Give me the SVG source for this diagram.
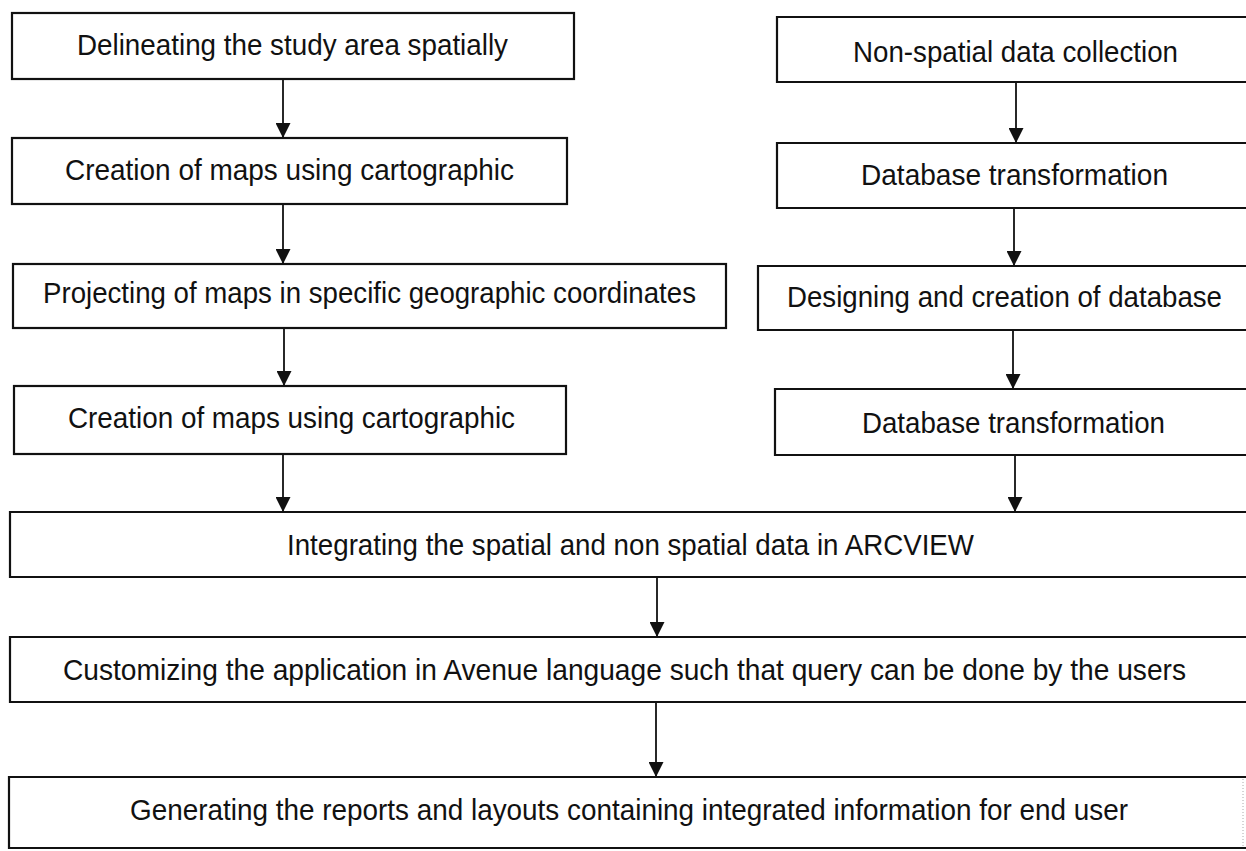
<svg xmlns="http://www.w3.org/2000/svg" width="1246" height="851" viewBox="0 0 1246 851">
  <style>
    .box { fill: #ffffff; stroke: #111111; stroke-width: 2.2; }
    .lbl { font-family: "Liberation Sans", Arial, sans-serif; font-size: 29px; fill: #111111; }
    .conn { stroke: #111111; stroke-width: 1.8; fill: none; marker-end: url(#arrow); }
  </style>
  <defs>
    <marker id="arrow" markerUnits="userSpaceOnUse" markerWidth="15" markerHeight="15" refX="15" refY="7.5" orient="auto" viewBox="0 0 15 15">
      <path d="M0,0 L15,7.5 L0,15 z" fill="#111111"/>
    </marker>
  </defs>
  <rect width="1246" height="851" fill="#ffffff"/>

  <g id="node-delineating">
    <rect class="box" x="12" y="13" width="562" height="66"/>
    <text class="lbl" x="77" y="55" textLength="431" lengthAdjust="spacingAndGlyphs">Delineating the study area spatially</text>
  </g>
  <g id="node-creation1">
    <rect class="box" x="12" y="138" width="555" height="66"/>
    <text class="lbl" x="65" y="180" textLength="449" lengthAdjust="spacingAndGlyphs">Creation of maps using cartographic</text>
  </g>
  <g id="node-projecting">
    <rect class="box" x="13" y="264" width="713" height="64"/>
    <text class="lbl" x="43" y="303" textLength="653" lengthAdjust="spacingAndGlyphs">Projecting of maps in specific geographic coordinates</text>
  </g>
  <g id="node-creation2">
    <rect class="box" x="14" y="386" width="552" height="68"/>
    <text class="lbl" x="68" y="428" textLength="447" lengthAdjust="spacingAndGlyphs">Creation of maps using cartographic</text>
  </g>

  <g id="node-nonspatial">
    <path class="box" d="M1246,17 H777 V82 H1246"/>
    <text class="lbl" x="853" y="62" textLength="325" lengthAdjust="spacingAndGlyphs">Non-spatial data collection</text>
  </g>
  <g id="node-dbtrans1">
    <path class="box" d="M1246,143 H777 V208 H1246"/>
    <text class="lbl" x="861" y="185" textLength="307" lengthAdjust="spacingAndGlyphs">Database transformation</text>
  </g>
  <g id="node-designing">
    <path class="box" d="M1246,266 H758 V330 H1246"/>
    <text class="lbl" x="1004.5" y="307" text-anchor="middle" font-size="27" textLength="435" lengthAdjust="spacingAndGlyphs">Designing and creation of database</text>
  </g>
  <g id="node-dbtrans2">
    <path class="box" d="M1246,389 H775 V455 H1246"/>
    <text class="lbl" x="862" y="433" textLength="303" lengthAdjust="spacingAndGlyphs">Database transformation</text>
  </g>

  <g id="node-integrating">
    <path class="box" d="M1246,512 H10 V577 H1246"/>
    <text class="lbl" x="287" y="555" textLength="687" lengthAdjust="spacingAndGlyphs">Integrating the spatial and non spatial data in ARCVIEW</text>
  </g>
  <g id="node-customizing">
    <path class="box" d="M1246,637 H10 V702 H1246"/>
    <text class="lbl" x="624.5" y="680" text-anchor="middle" font-size="27" textLength="1123" lengthAdjust="spacingAndGlyphs">Customizing the application in Avenue language such that query can be done by the users</text>
  </g>
  <g id="node-generating">
    <path class="box" d="M1246,777 H9 V848 H1246"/>
    <line x1="1243" y1="779" x2="1243" y2="848" stroke="#aaaaaa" stroke-width="1" stroke-dasharray="1,2"/>
    <text class="lbl" x="130" y="820" textLength="998" lengthAdjust="spacingAndGlyphs">Generating the reports and layouts containing integrated information for end user</text>
  </g>

  <g id="connectors">
    <line class="conn" x1="283" y1="80" x2="283" y2="138"/>
    <line class="conn" x1="283" y1="205" x2="283" y2="264"/>
    <line class="conn" x1="284" y1="329" x2="284" y2="386"/>
    <line class="conn" x1="283" y1="455" x2="283" y2="512"/>
    <line class="conn" x1="1016" y1="83" x2="1016" y2="143"/>
    <line class="conn" x1="1014" y1="209" x2="1014" y2="266"/>
    <line class="conn" x1="1013" y1="331" x2="1013" y2="389"/>
    <line class="conn" x1="1015" y1="456" x2="1015" y2="512"/>
    <line class="conn" x1="657" y1="578" x2="657" y2="637"/>
    <line class="conn" x1="656" y1="703" x2="656" y2="777"/>
  </g>
</svg>
